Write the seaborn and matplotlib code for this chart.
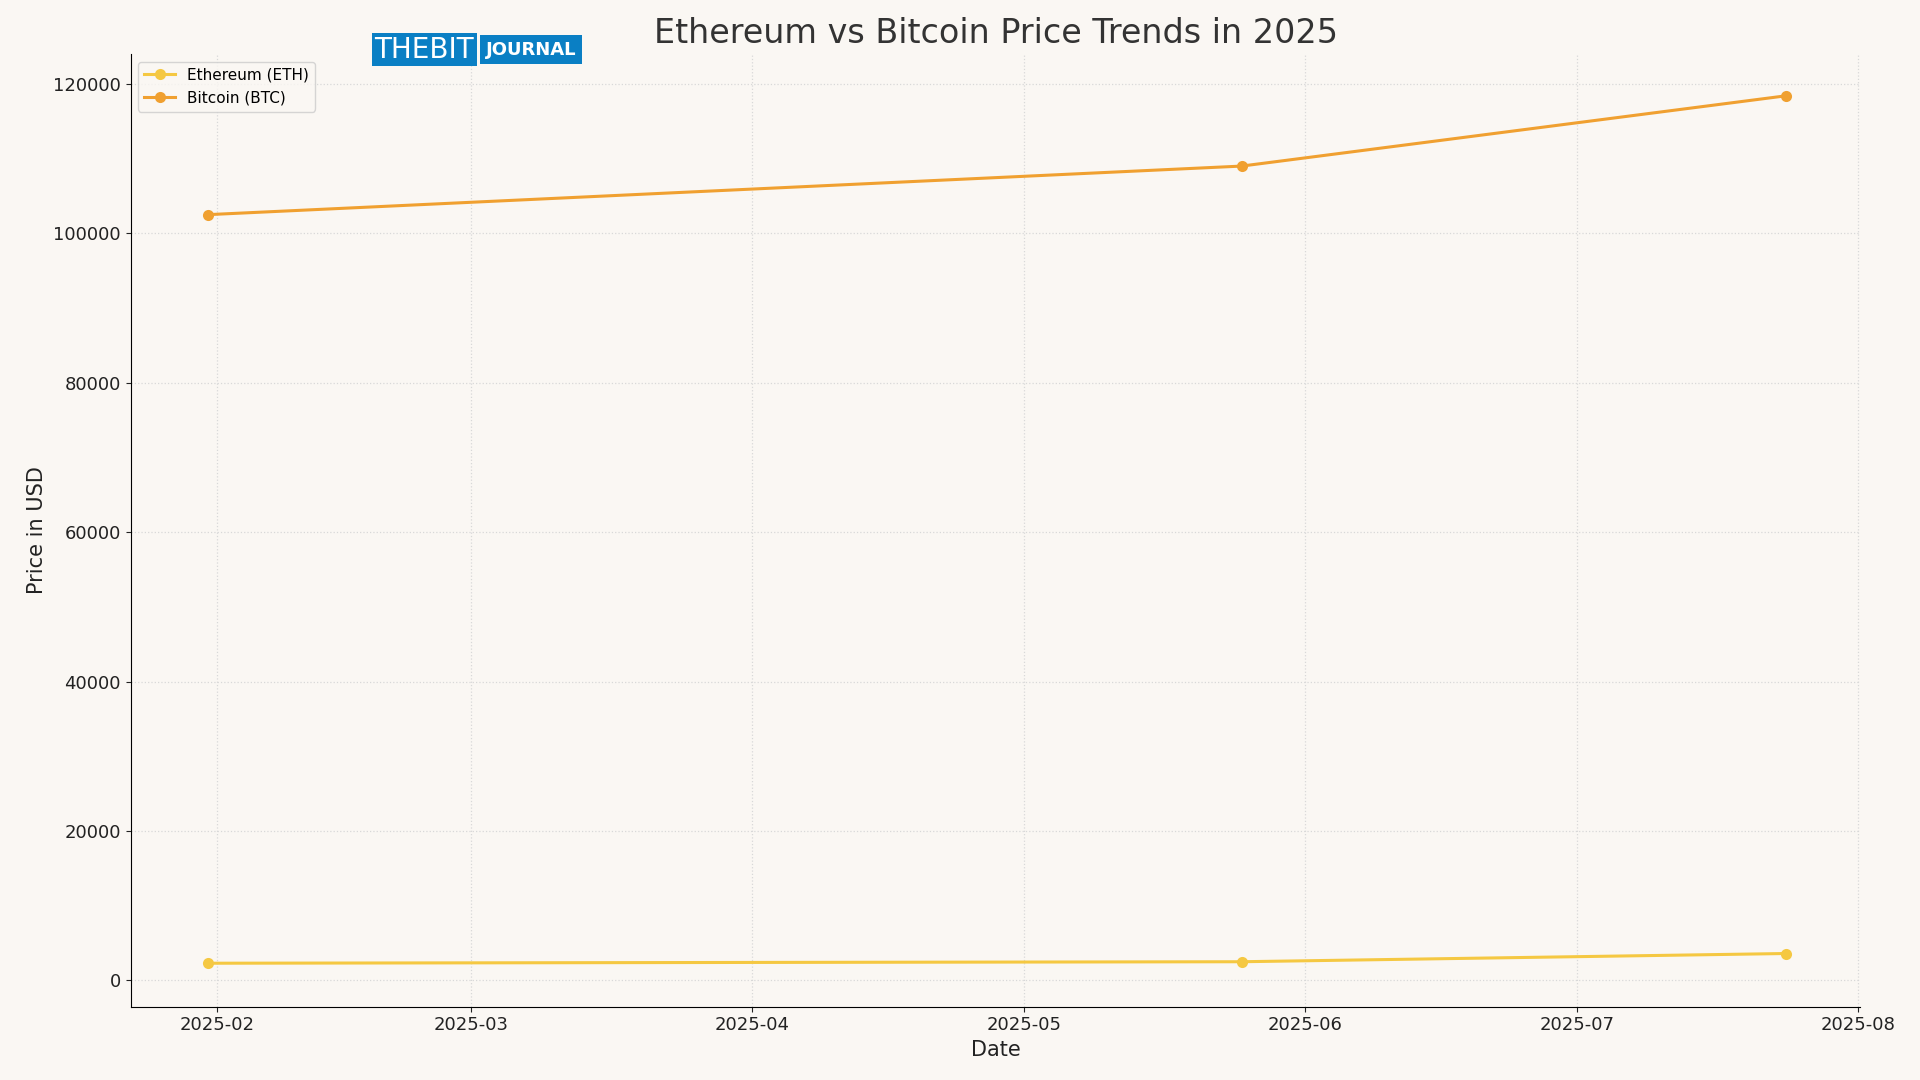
import matplotlib
matplotlib.use("Agg")
import matplotlib.pyplot as plt
import matplotlib.dates as mdates
import seaborn as sns
import pandas as pd

dates = ["2025-01-31", "2025-05-25", "2025-07-24"]
eth_prices = [2300, 2500, 3600]
btc_prices = [102500, 109000, 118400]
series_names = ["Ethereum (ETH)", "Bitcoin (BTC)"]
colors = ["#f5c842", "#f0a030"]

df = pd.DataFrame({
    "Date": pd.to_datetime(dates * 2),
    "Price": eth_prices + btc_prices,
    "Series": [series_names[0]] * 3 + [series_names[1]] * 3,
})

bg = "#faf7f3"
fig = plt.figure(figsize=(19.2, 10.8), dpi=100, facecolor=bg)
ax = fig.add_axes([0.068, 0.068, 0.901, 0.882], facecolor=bg)
sns.lineplot(data=df, x="Date", y="Price", hue="Series", palette=colors,
             marker="o", markersize=8, markeredgewidth=0, linewidth=2.2, ax=ax)

ax.set_title("Ethereum vs Bitcoin Price Trends in 2025", fontsize=24, color="#333333", pad=8)
ax.set_xlabel("Date", fontsize=15, color="#222222")
ax.set_ylabel("Price in USD", fontsize=15, color="#222222")
ax.tick_params(labelsize=13, colors="#222222")
ax.xaxis.set_major_locator(mdates.MonthLocator())
ax.xaxis.set_major_formatter(mdates.DateFormatter("%Y-%m"))
ax.set_xlim(pd.Timestamp("2025-01-22 10:00"), pd.Timestamp("2025-08-01 06:00"))
ax.set_ylim(-3500, 124000)
ax.grid(True, linestyle=":", color="#d8d8d8", linewidth=0.9)
ax.spines["top"].set_visible(False)
ax.spines["right"].set_visible(False)
leg = ax.legend(loc="upper left", fontsize=11, frameon=True, facecolor=bg, edgecolor="#cccccc")

fig.text(0.195, 0.954, "THEBIT", fontsize=20, color="white", va="center", ha="left",
         bbox=dict(facecolor="#0a7fc4", edgecolor="none", pad=2))
fig.text(0.253, 0.954, "JOURNAL", fontsize=13, color="white", weight="bold", va="center", ha="left",
         bbox=dict(facecolor="#0a7fc4", edgecolor="none", pad=4))

fig.savefig("out.png", dpi=100, facecolor=bg)
